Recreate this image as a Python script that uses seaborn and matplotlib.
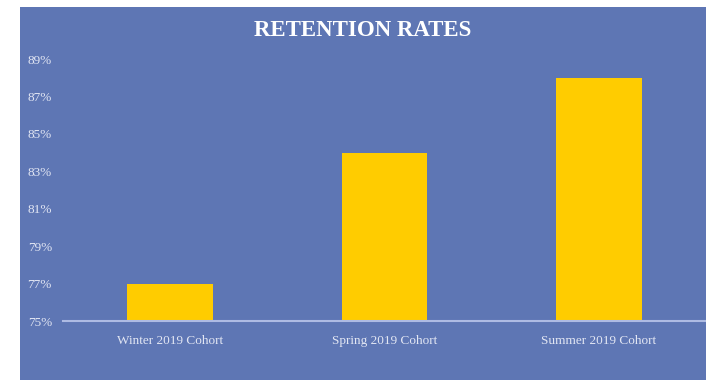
import matplotlib
matplotlib.use("Agg")
import matplotlib.pyplot as plt
import seaborn as sns
import pandas as pd
from matplotlib.patches import Rectangle

cohorts = ["Winter 2019 Cohort", "Spring 2019 Cohort", "Summer 2019 Cohort"]
retention = [77, 84, 88]
y_ticks = [75, 77, 79, 81, 83, 85, 87, 89]

BLUE = "#5E76B4"
GOLD = "#FFCC00"
TXT = "#E2E6F3"

sns.set_theme(style="white")
plt.rcParams["font.family"] = ["Liberation Serif", "DejaVu Serif"]

df = pd.DataFrame({"cohort": cohorts, "rate": retention})

fig = plt.figure(figsize=(7.06, 3.80), dpi=100, facecolor="white")
# blue panel behind the chart (white margin on top and left)
fig.patches.append(Rectangle((20 / 706, 0), 1, 373 / 380, transform=fig.transFigure,
                             facecolor=BLUE, edgecolor="none", zorder=-10))

ax = fig.add_axes([63 / 706, 59 / 380, 643 / 706, 262 / 380])
ax.set_zorder(1)
ax.set_facecolor("none")
sns.barplot(data=df, x="cohort", y="rate", color=GOLD, saturation=1, width=0.4,
            linewidth=0, ax=ax)

ax.set_ylim(75, 89)
ax.set_xlim(-0.5, 2.5)
ax.set_yticks(y_ticks)
ax.set_yticklabels([f"{v}%" for v in y_ticks])
ax.set_xlabel("")
ax.set_ylabel("")
for s in ["top", "right", "left"]:
    ax.spines[s].set_visible(False)
ax.spines["bottom"].set_color("#AEBBE3")
ax.spines["bottom"].set_linewidth(1.5)
ax.tick_params(axis="y", length=0, pad=8, labelsize=9.5, labelcolor=TXT)
ax.tick_params(axis="x", length=0, pad=10, labelsize=9.5, labelcolor=TXT)

fig.text(363 / 706, 1 - 31 / 380, "RETENTION RATES", ha="center", va="center",
         color="white", fontsize=16.5, fontweight="bold", zorder=2)

fig.savefig("out.png", dpi=100, facecolor="white")
